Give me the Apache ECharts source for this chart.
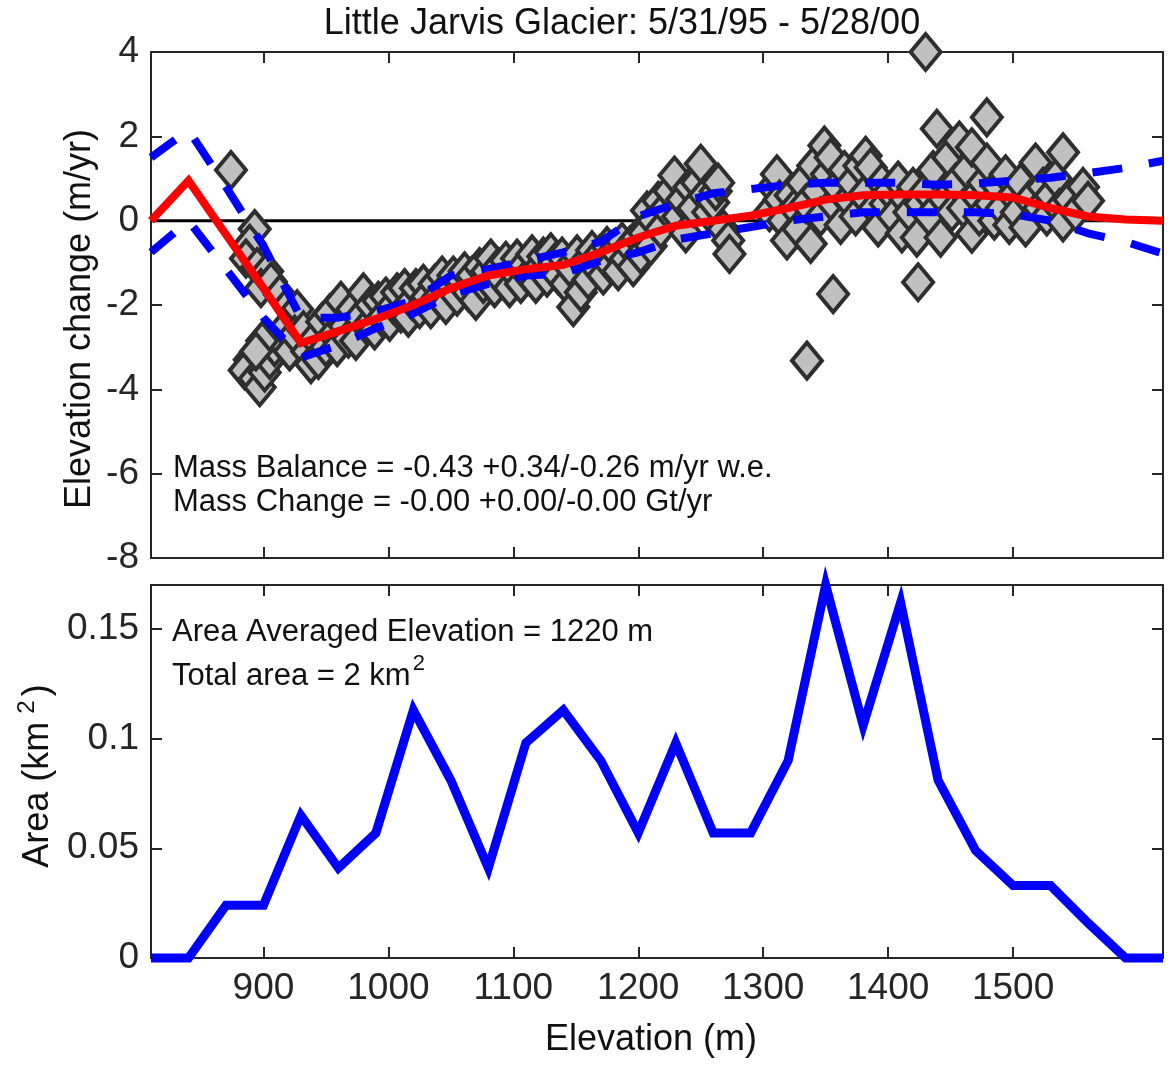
<!DOCTYPE html>
<html>
<head>
<meta charset="utf-8">
<script src="https://cdn.jsdelivr.net/npm/echarts@6/dist/echarts.min.js"></script>
<style>
  html, body { margin: 0; padding: 0; background: #ffffff; }
  #chart { width: 1174px; height: 1065px; }
</style>
</head>
<body>
<div id="chart"></div>
<script>
// Elevation bins (m) shared by the fitted profile and the hypsometry
const elevBins = [810, 840, 870, 900, 930, 960, 990, 1020, 1050, 1080, 1110, 1140, 1170, 1200,
                  1230, 1260, 1290, 1320, 1350, 1380, 1410, 1440, 1470, 1500, 1530, 1560, 1590, 1620];

// Fitted elevation change (m/yr) with upper / lower bounds
const fitMid   = [0.0, 0.95, -0.33, -1.6, -2.9, -2.62, -2.33, -2.0, -1.6, -1.3, -1.15, -1.05, -0.75, -0.4,
                  -0.12, 0.0, 0.12, 0.3, 0.5, 0.6, 0.62, 0.62, 0.6, 0.55, 0.3, 0.1, 0.03, 0.0];
const fitUpper = [1.5, 2.15, 0.8, -0.6, -2.3, -2.3, -2.15, -1.9, -1.3, -1.15, -0.95, -0.75, -0.5, 0.1,
                  0.4, 0.65, 0.75, 0.85, 0.9, 0.9, 0.9, 0.85, 0.88, 0.95, 1.02, 1.13, 1.25, 1.42];
const fitLower = [-0.75, 0.0, -1.15, -2.3, -3.25, -2.95, -2.55, -2.2, -1.75, -1.5, -1.3, -1.25, -0.95, -0.75,
                  -0.45, -0.3, -0.15, 0.0, 0.1, 0.2, 0.2, 0.2, 0.2, 0.15, 0.0, -0.3, -0.5, -0.78];

// Glacier area per elevation bin (km^2)
const areaKm2 = [0, 0, 0.024, 0.024, 0.065, 0.041, 0.057, 0.113, 0.081, 0.041, 0.098, 0.113, 0.090, 0.057,
                 0.098, 0.057, 0.057, 0.090, 0.170, 0.106, 0.162, 0.081, 0.049, 0.033, 0.033, 0.016, 0, 0];

// Observed elevation changes: [elevation (m), dh/dt (m/yr)]
const obsPoints = [
  [874, 1.2], [893, -0.2], [889, -0.55], [886, -0.9], [895, -1.1], [903, -1.2], [898, -1.6], [906, -1.45],
  [913, -1.75], [920, -2.0], [927, -2.1], [889, -3.3], [885, -3.55], [893, -3.75], [897, -3.95], [901, -3.6],
  [905, -3.3], [909, -3.0], [913, -2.8], [917, -2.55], [899, -2.85], [894, -3.1], [921, -3.1], [925, -2.7],
  [932, -2.6], [935, -3.1], [938, -3.4], [941, -2.8], [944, -3.3], [947, -2.4], [950, -3.0], [953, -2.2],
  [956, -2.7], [959, -3.0], [962, -1.9], [965, -2.5], [968, -2.8], [971, -2.1], [974, -2.85], [977, -2.3],
  [980, -1.7], [983, -2.5], [986, -2.0], [989, -2.6], [992, -1.9], [995, -2.3], [998, -1.8], [1001, -2.4],
  [1004, -2.0], [1007, -1.7], [1010, -2.2], [1013, -1.6], [1016, -2.3], [1019, -1.9], [1022, -1.6], [1025, -2.1],
  [1028, -1.5], [1031, -1.8], [1034, -2.1], [1037, -1.5], [1040, -1.8], [1043, -1.3], [1046, -2.0], [1049, -1.5],
  [1052, -1.3], [1055, -1.8], [1058, -1.4], [1061, -1.2], [1064, -1.7], [1067, -1.3], [1070, -1.9], [1073, -1.1],
  [1076, -1.5], [1079, -1.2], [1082, -0.9], [1085, -1.6], [1088, -1.1], [1091, -1.4], [1094, -0.95], [1097, -1.6],
  [1100, -1.2], [1103, -0.9], [1106, -1.5], [1109, -1.05], [1112, -1.3], [1115, -0.8], [1118, -1.5], [1121, -1.1],
  [1124, -0.85], [1127, -1.35], [1130, -0.75], [1133, -1.0], [1136, -1.3], [1139, -0.85], [1142, -1.5], [1145, -1.1],
  [1148, -2.05], [1151, -0.8], [1154, -1.7], [1157, -1.0], [1160, -1.4], [1163, -0.7], [1166, -1.1], [1169, -0.8],
  [1172, -1.3], [1175, -0.6], [1178, -1.05], [1181, -0.7], [1184, -1.2], [1187, -0.5], [1190, -0.9], [1193, -0.6],
  [1196, -1.1], [1199, -0.4], [1202, -0.8],
  [1205, -0.3], [1207, 0.24], [1210, -0.6], [1212, 0.0], [1216, 0.47], [1218, -0.2], [1222, 0.3], [1225, 0.7],
  [1229, 1.07], [1232, 0.1], [1235, 0.5], [1238, -0.3], [1241, 0.8], [1244, 0.3], [1247, 0.9], [1250, 1.35],
  [1253, 0.6], [1256, 0.2], [1260, 0.43], [1262, 0.7], [1264, 0.9], [1268, -0.2], [1272, -0.47], [1273, -0.79],
  [1305, 0.2], [1308, 0.8], [1311, 1.1], [1313, 0.5], [1316, 0.0], [1319, -0.47], [1322, 0.6], [1325, 0.3],
  [1328, -0.2], [1331, 0.9], [1334, 0.4], [1338, -0.55], [1340, 1.3], [1343, 0.7], [1346, 0.1], [1349, 1.78],
  [1351, 1.1], [1354, 1.5], [1356, 0.4], [1359, 0.8], [1362, -0.1], [1365, 1.2], [1368, 0.5], [1371, 0.9],
  [1374, 0.1], [1377, 1.3], [1380, 0.6], [1382, 1.54], [1386, 1.26], [1389, 0.3], [1392, -0.16], [1395, 0.9],
  [1398, 0.4], [1401, 0.7], [1404, 0.1], [1408, 0.95], [1411, -0.3], [1414, 0.5], [1417, 0.2], [1420, 0.8],
  [1423, -0.4], [1426, 0.4], [1430, 0.71], [1430, 4.0], [1433, 0.1], [1436, 1.2], [1439, 2.18], [1442, -0.4],
  [1445, 0.5], [1448, 1.5], [1451, 0.2], [1454, 0.9], [1457, 1.9], [1460, 0.3], [1463, 1.2], [1467, 1.74],
  [1467, -0.31], [1470, 0.6], [1473, 0.1], [1476, 0.9], [1479, 2.45], [1479, 1.38], [1482, 0.4], [1485, 0.0],
  [1488, 0.8], [1491, 0.3], [1494, 1.1], [1497, -0.1], [1500, 0.6], [1503, 0.2], [1506, 0.9], [1510, -0.16],
  [1513, 0.5], [1518, 1.38], [1521, 0.3], [1524, 0.8], [1527, 0.1], [1530, 0.6], [1534, 1.0], [1537, 0.3],
  [1540, 1.62], [1540, -0.04], [1545, 0.5], [1550, 0.2], [1556, 0.8], [1560, 0.47],
  [1335, -3.32], [1356, -1.74], [1424, -1.46]
];

// Reference line at zero change
const zeroLine = [[810, 0], [1620, 0]];

// Tick positions
const elevTicks = [900, 1000, 1100, 1200, 1300, 1400, 1500];
const areaTicks = [0, 0.05, 0.1, 0.15];

const FONT = '"Liberation Sans", Arial, Helvetica, sans-serif';
const INK = '#262626';
const axisLine = { show: true, onZero: false, lineStyle: { color: INK, width: 2 } };
const plainNumber = v => String(v);

function zip(xs, ys) { return xs.map((x, i) => [x, ys[i]]); }

function xAx(grid, position, labels) {
  return {
    type: 'value', gridIndex: grid, position: position, min: 810, max: 1620,
    axisLine: axisLine,
    axisTick: { show: true, inside: true, length: 11, customValues: elevTicks, lineStyle: { color: INK, width: 2 } },
    axisLabel: labels
      ? { show: true, customValues: elevTicks, formatter: plainNumber, fontSize: 37, fontFamily: FONT, color: INK, margin: 12 }
      : { show: false },
    splitLine: { show: false }
  };
}

function yAx(grid, position, labels, cfg) {
  return Object.assign({
    type: 'value', gridIndex: grid, position: position,
    axisLine: axisLine,
    axisTick: { show: true, inside: true, length: 11, lineStyle: { color: INK, width: 2 } },
    axisLabel: labels
      ? { show: true, formatter: plainNumber, fontSize: 37, fontFamily: FONT, color: INK, margin: 12 }
      : { show: false },
    splitLine: { show: false }
  }, cfg);
}

const topY = { min: -8, max: 4, interval: 2 };
const botY = { min: 0, max: 0.17 };

const yAxes = [
  yAx(0, 'left', true, topY),
  yAx(0, 'right', false, topY),
  yAx(1, 'left', true, botY),
  yAx(1, 'right', false, botY)
];
yAxes[2].axisTick.customValues = areaTicks;
yAxes[2].axisLabel.customValues = areaTicks;
yAxes[3].axisTick.customValues = areaTicks;

function label(text, x, y, size, extra) {
  return {
    type: 'text', x: x, y: y, silent: true, z: 100,
    style: Object.assign({
      text: text, fontSize: size, fontFamily: FONT, fill: '#111111',
      textAlign: 'left', textVerticalAlign: 'middle'
    }, extra || {})
  };
}

const option = {
  animation: false,
  backgroundColor: '#ffffff',
  grid: [
    { left: 151, top: 52, width: 1012, height: 506, containLabel: false },
    { left: 151, top: 585, width: 1012, height: 373, containLabel: false }
  ],
  xAxis: [xAx(0, 'bottom', false), xAx(0, 'top', false), xAx(1, 'bottom', true), xAx(1, 'top', false)],
  yAxis: yAxes,
  series: [
    {
      type: 'line', xAxisIndex: 0, yAxisIndex: 0, data: zeroLine, symbol: 'none', z: 1, silent: true,
      lineStyle: { color: '#000000', width: 3 }
    },
    {
      type: 'scatter', xAxisIndex: 0, yAxisIndex: 0, data: obsPoints, symbol: 'diamond',
      symbolSize: [30, 36], clip: false, z: 2, silent: true,
      itemStyle: { color: '#c0c0c0', borderColor: '#2e2e2e', borderWidth: 4, opacity: 1 }
    },
    {
      type: 'line', xAxisIndex: 0, yAxisIndex: 0, data: zip(elevBins, fitUpper), symbol: 'none', z: 3, silent: true,
      lineStyle: { color: '#0000ff', width: 8, type: [30, 27], cap: 'butt' }
    },
    {
      type: 'line', xAxisIndex: 0, yAxisIndex: 0, data: zip(elevBins, fitLower), symbol: 'none', z: 3, silent: true,
      lineStyle: { color: '#0000ff', width: 8, type: [30, 27], cap: 'butt' }
    },
    {
      type: 'line', xAxisIndex: 0, yAxisIndex: 0, data: zip(elevBins, fitMid), symbol: 'none', z: 4, silent: true,
      lineStyle: { color: '#ff0000', width: 8, join: 'miter' }
    },
    {
      type: 'line', xAxisIndex: 2, yAxisIndex: 2, data: zip(elevBins, areaKm2), symbol: 'none', z: 3,
      clip: false, silent: true,
      lineStyle: { color: '#0000ff', width: 9, join: 'miter' }
    }
  ],
  graphic: [
    label('Little Jarvis Glacier: 5/31/95 - 5/28/00', 622, 24, 36, { textAlign: 'center' }),
    Object.assign(label('Elevation change (m/yr)', 80, 319, 36, { textAlign: 'center' }), { rotation: Math.PI / 2 }),
    Object.assign(label('Area (km{sup|2})', 38, 776, 36, {
      textAlign: 'center',
      rich: { sup: { fontSize: 24, fontFamily: FONT, fill: '#111111', padding: [0, 4, 22, 8] } }
    }), { rotation: Math.PI / 2 }),
    label('Elevation (m)', 651, 1040, 36, { textAlign: 'center' }),
    label('Mass Balance = -0.43 +0.34/-0.26 m/yr w.e.', 173, 468, 31),
    label('Mass Change = -0.00 +0.00/-0.00 Gt/yr', 173, 502, 31),
    label('Area Averaged Elevation = 1220 m', 172, 632, 31),
    label('Total area = 2 km{sup|2}', 172, 676, 31, {
      rich: { sup: { fontSize: 22, fontFamily: FONT, fill: '#111111', padding: [0, 0, 24, 2] } }
    })
  ]
};

const chart = echarts.init(document.getElementById('chart'), null, { renderer: 'canvas' });
chart.setOption(option);
</script>
</body>
</html>
